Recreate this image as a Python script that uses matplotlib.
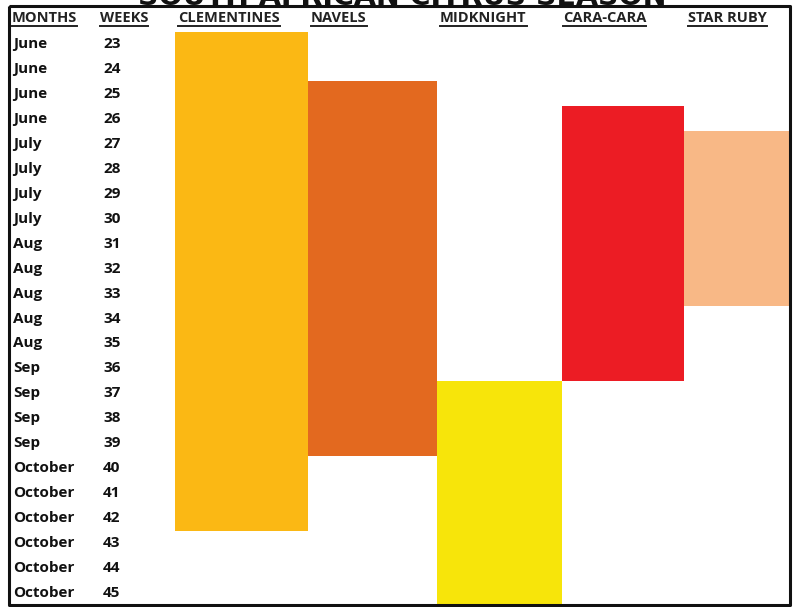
import matplotlib.pyplot as plt

# season table data
weeks = list(range(23, 46))
months = ["June"] * 4 + ["July"] * 4 + ["Aug"] * 5 + ["Sep"] * 4 + ["October"] * 6
varieties = ["CLEMENTINES", "NAVELS", "MIDKNIGHT", "CARA-CARA", "STAR RUBY"]
start_week = [23, 25, 37, 26, 27]
end_week = [42, 39, 45, 36, 33]
colors = ["#FBB814", "#E3691F", "#F7E50A", "#EC1C24", "#F8B886"]

# column layout (pixel units across the figure)
col_left = [175, 308, 437, 562, 684]
col_right = [308, 437, 562, 684, 790]
header_x = [178, 311, 440, 563, 688]

W, H = 793, 607
font = "Open Sans"


def main():
    fig = plt.figure(figsize=(W / 100, H / 100), dpi=100)
    ax = fig.add_axes([0, 0, 1, 1])
    px = 24.95  # pixels per week
    ax.set_xlim(0, W)
    ax.set_ylim(45 + (H - 593) / px, 23 - 44 / px)
    ax.axis("off")

    # season bars
    for i, name in enumerate(varieties):
        ax.bar(
            (col_left[i] + col_right[i]) / 2,
            end_week[i] - start_week[i] + 1,
            bottom=start_week[i] - 0.5,
            width=col_right[i] - col_left[i],
            color=colors[i],
            linewidth=0,
        )

    # rows
    for m, w in zip(months, weeks):
        ax.text(13, w, m, fontsize=11, fontweight="bold", family=font,
                va="center", ha="left", color="#111111")
        ax.text(103, w, str(w), fontsize=11, fontweight="bold", family=font,
                va="center", ha="left", color="#111111")

    # headers with underline
    head_y = 23 - 26 / px
    headers = ["MONTHS", "WEEKS"] + varieties
    hx = [12, 100] + header_x
    fig.canvas.draw()
    renderer = fig.canvas.get_renderer()
    inv = ax.transData.inverted()
    for x, h in zip(hx, headers):
        t = ax.text(x, head_y, h, fontsize=10.5, fontweight="bold", family=font,
                    va="center", ha="left", color="#222222")
        bb = t.get_window_extent(renderer)
        (x0, y0), (x1, y1) = inv.transform([(bb.x0, bb.y0), (bb.x1, bb.y0)])
        ax.plot([x0, x1], [y0 + 0.02, y0 + 0.02], color="#222222", lw=1.4)

    # border box
    top = 23 - 38 / px
    bottom = 45 + 12 / px
    ax.plot([9, 9, 790, 790, 9], [top, bottom, bottom, top, top],
            color="#111111", lw=2.2, solid_capstyle="butt")

    # title, mostly cut off at the top of the image
    ax.text(402, 23 - 39 / px, "SOUTH AFRICAN CITRUS SEASON", fontsize=20.5,
            fontweight="heavy", family="DejaVu Sans", ha="center",
            va="baseline", color="#111111")

    fig.savefig("out.png", dpi=100)
    plt.close(fig)


if __name__ == "__main__":
    main()
